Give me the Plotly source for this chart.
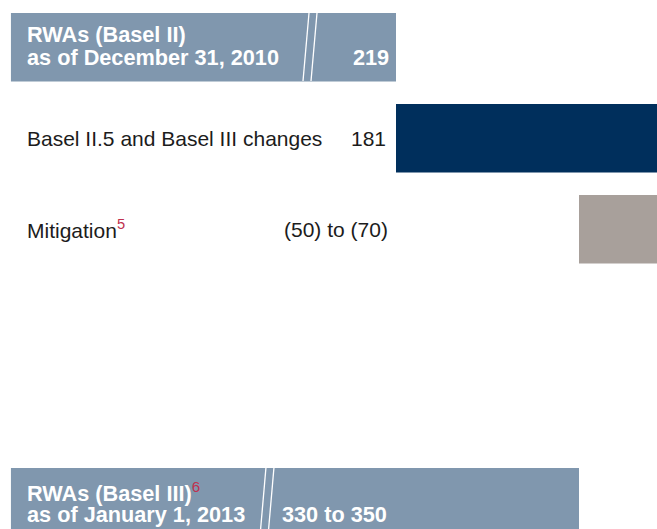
import plotly.graph_objects as go

# ---- data ----
rows = [0, 1, 2, 5]
labels = ["RWAs (Basel II)", "Basel II.5 and Basel III changes", "Mitigation", "RWAs (Basel III)"]
sublabels = ["as of December 31, 2010", "", "", "as of January 1, 2013"]
value_labels = ["219", "181", "(50) to (70)", "330 to 350"]
footnotes = ["", "", "5", "6"]
start_total = 219
basel_changes = 181
mitigation_low, mitigation_high = 50, 70
end_low, end_high = 330, 350

# ---- derived waterfall geometry ----
mitigation_mid = (mitigation_low + mitigation_high) / 2
end_mid = (end_low + end_high) / 2
peak = start_total + basel_changes
axis_break_start = -35.6   # broken axis: total bars begin at the left edge

bases = [axis_break_start, start_total, peak - mitigation_mid, axis_break_start]
lengths = [start_total - axis_break_start, basel_changes, mitigation_mid, end_mid - axis_break_start]
colors = ["#8097ae", "#002f5c", "#a8a09b", "#8097ae"]

W, H = 657, 529
FONT = "Liberation Sans, Arial, Helvetica, sans-serif"
WHITE = "#ffffff"
DARK = "#1c1c1c"
RED = "#c0304f"

fig = go.Figure()
for r, b, l, c in zip(rows, bases, lengths, colors):
    fig.add_trace(go.Bar(y=[r], x=[l], base=[b], orientation="h", width=0.753,
                         marker=dict(color=c, line=dict(width=0)), hoverinfo="skip",
                         showlegend=False))

def ann(text, xpx, row, yshift, anchor, color, size=21):
    fig.add_annotation(text=text, xref="paper", x=xpx / W, yref="y", y=row,
                       yshift=yshift, xanchor=anchor, yanchor="middle", showarrow=False,
                       borderpad=0, borderwidth=0,
                       font=dict(family=FONT, size=size, color=color))

def sup(n):
    return "<sup><span style='color:%s'>%s</span></sup>" % (RED, n) if n else ""

BS = 21.7
# row 0
ann("<b>%s</b>" % labels[0] + sup(footnotes[0]), 27, rows[0], 12.75, "left", WHITE, BS)
ann("<b>%s</b>" % sublabels[0], 27, rows[0], -10.25, "left", WHITE, BS)
ann("<b>%s</b>" % value_labels[0], 389, rows[0], -10.25, "right", WHITE, BS)
# row 1
ann(labels[1] + sup(footnotes[1]), 27, rows[1], 0, "left", DARK)
ann(value_labels[1], 386, rows[1], 0, "right", DARK)
# row 2
ann(labels[2] + sup(footnotes[2]), 27, rows[2], 0, "left", DARK)
ann(value_labels[2], 388, rows[2], 0, "right", DARK)
# row 5
ann("<b>%s</b>" % labels[3] + sup(footnotes[3]), 27, rows[3], 10.75, "left", WHITE, BS)
ann("<b>%s</b>" % sublabels[3], 27, rows[3], -12.25, "left", WHITE, BS)
ann("<b>%s</b>" % value_labels[3], 282, rows[3], -12.25, "left", WHITE, BS)

# axis break marks (decorative)
def brk(x_top, x_bot, y_top, y_bot):
    for dx in (0, 8):
        fig.add_shape(type="line", xref="paper", yref="paper",
                      x0=(x_top + dx) / W, x1=(x_bot + dx) / W,
                      y0=1 - y_top / H, y1=1 - y_bot / H,
                      line=dict(color=WHITE, width=1.3))

brk(309, 303, 13, 81)
brk(266, 260, 467, 536)

# axis ranges: 219 at 396px, 340 at 579px
s = (579 - 396) / (end_mid - start_total)          # px per unit
x_lo = start_total - 396 / s
x_hi = start_total + (W - 396) / s
row_px, row0 = 91.0, 47.25
y_top = -row0 / row_px
y_bot = (H - row0) / row_px

fig.update_layout(
    width=W, height=H, margin=dict(l=0, r=0, t=0, b=0),
    paper_bgcolor="white", plot_bgcolor="white", barmode="overlay",
    xaxis=dict(range=[x_lo, x_hi], visible=False, fixedrange=True),
    yaxis=dict(range=[y_bot, y_top], visible=False, fixedrange=True),
)
fig.write_html("out.html", config={"displayModeBar": False},
               post_script="document.body.style.margin='0';document.body.style.overflow='hidden';")
